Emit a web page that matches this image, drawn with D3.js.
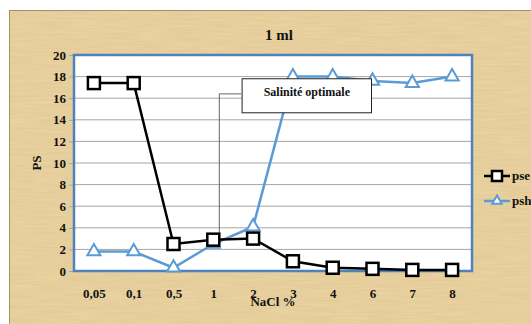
<!DOCTYPE html>
<html><head><meta charset="utf-8">
<script src="https://cdn.jsdelivr.net/npm/d3@7"></script>
<style>body{margin:0;background:#fff;overflow:hidden}</style>
</head><body>
<svg id="c" width="531" height="324"></svg>
<script>
const categories = ["0,05","0,1","0,5","1","2","3","4","6","7","8"];
const pse = [17.4,17.4,2.5,2.9,3.0,0.9,0.3,0.2,0.1,0.1];
const psh = [1.8,1.8,0.3,2.5,4.1,18,18,17.6,17.4,18];
const yTicks = [0,2,4,6,8,10,12,14,16,18,20];
const seriesNames = ["pse","psh"];
const title = "1 ml";
const annotation = "Salinité optimale";

const svg = d3.select("#c");
const defs = svg.append("defs");
const f = defs.append("filter").attr("id","tex").attr("x",0).attr("y",0).attr("width","100%").attr("height","100%");
f.append("feTurbulence").attr("type","fractalNoise").attr("baseFrequency","0.03 0.5").attr("numOctaves",3).attr("seed",4).attr("result","n");
f.append("feColorMatrix").attr("in","n").attr("type","matrix")
 .attr("values","0 0 0 0 0.62  0 0 0 0 0.48  0 0 0 0 0.25  0 0 0 0.5 -0.1").attr("result","c");
f.append("feComposite").attr("in","c").attr("in2","SourceGraphic").attr("operator","in");

svg.append("rect").attr("x",9.5).attr("y",10.5).attr("width",530).attr("height",320)
  .attr("fill","#ebd3a0").attr("stroke","#a88d68").attr("stroke-width",1);
svg.append("rect").attr("x",10).attr("y",11).attr("width",521).attr("height",313)
  .attr("fill","#ebd3a0").attr("filter","url(#tex)");

const L=74, R=472, T=55, B=271;
const x = d3.scalePoint().domain(categories).range([L,R]).padding(0.5);
const y = d3.scaleLinear().domain([0,20]).range([B,T]);
const font = "'Liberation Serif','Times New Roman',serif";

svg.append("rect").attr("x",L).attr("y",T).attr("width",R-L).attr("height",B-T).attr("fill","#fff");
// grid
svg.append("g").selectAll("line").data(yTicks.slice(1,-1)).join("line")
  .attr("x1",L).attr("x2",R).attr("y1",d=>y(d)).attr("y2",d=>y(d))
  .attr("stroke","#a6a6a6").attr("stroke-width",1);

// axis ticks
const ya = svg.append("g").attr("transform",`translate(${L},0)`)
  .call(d3.axisLeft(y).tickValues(yTicks).tickSize(5).tickPadding(3));
ya.select(".domain").remove();
ya.selectAll("line").attr("stroke","#a6a6a6");
ya.selectAll("text").attr("font-family",font).attr("font-weight","bold").attr("font-size",13).attr("fill","#111");

const xa = svg.append("g").attr("transform",`translate(0,${B})`)
  .call(d3.axisBottom(x).tickSize(0).tickPadding(18));
xa.select(".domain").remove();
xa.selectAll("text").attr("font-family",font).attr("font-weight","bold").attr("font-size",13).attr("fill","#111");

svg.append("rect").attr("x",L).attr("y",T).attr("width",R-L).attr("height",B-T)
  .attr("fill","none").attr("stroke","#4f81bd").attr("stroke-width",2.5);

// annotation connector
const ax = x("1")+6;
svg.append("path").attr("d",`M${ax},${y(2.9)-2}V${y(16.4)}H${x("2")-12}`)
  .attr("fill","none").attr("stroke","#666").attr("stroke-width",1);

// lines
const line = d3.line().x((d,i)=>x(categories[i])).y(d=>y(d));
svg.append("path").datum(psh).attr("d",line).attr("fill","none").attr("stroke","#5b9bd5").attr("stroke-width",2.5);
svg.append("path").datum(pse).attr("d",line).attr("fill","none").attr("stroke","#000").attr("stroke-width",2.5);

const tri = d3.symbol().type(d3.symbolTriangle).size(75);
svg.append("g").selectAll("path").data(psh).join("path")
  .attr("d",tri).attr("transform",(d,i)=>`translate(${x(categories[i])},${y(d)})`)
  .attr("fill","#fff").attr("stroke","#5b9bd5").attr("stroke-width",2);
svg.append("g").selectAll("rect").data(pse).join("rect")
  .attr("x",(d,i)=>x(categories[i])-6).attr("y",d=>y(d)-6).attr("width",12).attr("height",12)
  .attr("fill","#fff").attr("stroke","#000").attr("stroke-width",2.5);

// annotation box
const bx0 = x("2")-11, bx1 = x("6")-1;
svg.append("rect").attr("x",bx0).attr("y",y(17.8)).attr("width",bx1-bx0).attr("height",y(14.65)-y(17.8))
  .attr("fill","#fff").attr("stroke","#222").attr("stroke-width",1);
svg.append("text").attr("x",(bx0+bx1)/2).attr("y",y(16.25)).attr("text-anchor","middle")
  .attr("font-family",font).attr("font-weight","bold").attr("font-size",12).attr("fill","#111").text(annotation);

// titles
svg.append("text").attr("x",279).attr("y",40).attr("text-anchor","middle")
  .attr("font-family",font).attr("font-weight","bold").attr("font-size",15).attr("fill","#111").text(title);
svg.append("text").attr("transform",`translate(41,${y(10)}) rotate(-90)`).attr("text-anchor","middle")
  .attr("font-family",font).attr("font-weight","bold").attr("font-size",13).attr("fill","#111").text("PS");
svg.append("text").attr("x",273).attr("y",306).attr("text-anchor","middle")
  .attr("font-family",font).attr("font-weight","bold").attr("font-size",13).attr("fill","#111").text("NaCl %");

// legend
const lg = svg.append("g");
[0,1].forEach(i=>{
  const ly = 176 + i*25, lx0 = 484, lx1 = 510, cx = 497;
  const col = i===0 ? "#000" : "#5b9bd5";
  lg.append("line").attr("x1",lx0).attr("x2",lx1).attr("y1",ly).attr("y2",ly).attr("stroke",col).attr("stroke-width",2.5);
  if(i===0) lg.append("rect").attr("x",cx-5).attr("y",ly-5).attr("width",10).attr("height",10).attr("fill","#fff").attr("stroke","#000").attr("stroke-width",2.5);
  else lg.append("path").attr("d",d3.symbol().type(d3.symbolTriangle).size(40)).attr("transform",`translate(${cx},${ly})`).attr("fill","#fff").attr("stroke",col).attr("stroke-width",2);
  lg.append("text").attr("x",512).attr("y",ly+4).attr("font-family",font).attr("font-weight","bold").attr("font-size",13).attr("fill","#111").text(seriesNames[i]);
});
</script>
</body></html>
